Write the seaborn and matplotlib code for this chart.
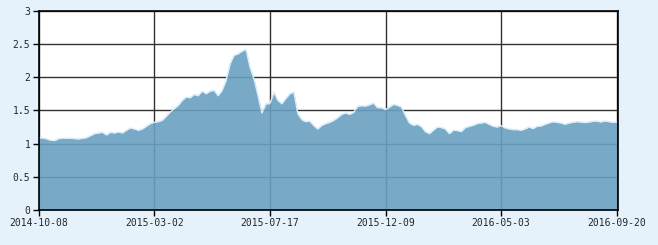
import matplotlib
matplotlib.use("Agg")
import matplotlib.pyplot as plt
import seaborn as sns
import numpy as np
import pandas as pd

# Net value series (sampled along the trading-day axis)
values = [
    1.085, 1.085, 1.07, 1.05, 1.045, 1.075, 1.08, 1.08, 1.08, 1.075,
    1.07, 1.08, 1.09, 1.12, 1.15, 1.16, 1.17, 1.13, 1.17, 1.16,
    1.175, 1.16, 1.2, 1.235, 1.22, 1.2, 1.22, 1.26, 1.3, 1.32,
    1.33, 1.35, 1.41, 1.475, 1.525, 1.575, 1.65, 1.7, 1.69, 1.74,
    1.72, 1.79, 1.75, 1.79, 1.8, 1.72, 1.8, 1.95, 2.2, 2.33,
    2.35, 2.39, 2.42, 2.15, 1.975, 1.725, 1.46, 1.6, 1.6, 1.775,
    1.65, 1.6, 1.68, 1.75, 1.775, 1.45, 1.36, 1.33, 1.34, 1.27,
    1.22, 1.275, 1.3, 1.32, 1.35, 1.39, 1.44, 1.46, 1.44, 1.47,
    1.56, 1.57, 1.565, 1.585, 1.61, 1.54, 1.54, 1.51, 1.55, 1.59,
    1.575, 1.55, 1.42, 1.31, 1.275, 1.29, 1.255, 1.18, 1.15, 1.2,
    1.25, 1.24, 1.22, 1.15, 1.2, 1.195, 1.18, 1.24, 1.26, 1.275,
    1.3, 1.31, 1.32, 1.29, 1.26, 1.25, 1.27, 1.235, 1.22, 1.21,
    1.21, 1.2, 1.22, 1.25, 1.225, 1.26, 1.265, 1.29, 1.31, 1.33,
    1.32, 1.31, 1.29, 1.31, 1.32, 1.33, 1.325, 1.315, 1.325, 1.335,
    1.34, 1.325, 1.34, 1.33, 1.32, 1.325,
]
tick_labels = ["2014-10-08", "2015-03-02", "2015-07-17",
               "2015-12-09", "2016-05-03", "2016-09-20"]
y_ticks = [0, 0.5, 1, 1.5, 2, 2.5, 3]
y_tick_labels = ["0", "0.5", "1", "1.5", "2", "2.5", "3"]

df = pd.DataFrame({"idx": np.arange(len(values)), "value": values})

sns.set_style("white")
plt.rcParams["font.family"] = ["DejaVu Sans Mono", "DejaVu Sans"]

bg = "#e6f2fb"
fig = plt.figure(figsize=(6.58, 2.45), dpi=100, facecolor=bg)
ax = fig.add_axes([0.0588, 0.1429, 0.8809, 0.8134])
ax.set_facecolor("white")

# grid
for yv in y_ticks:
    ax.axhline(yv, color="#333333", lw=1.0, zorder=1)
n = len(values)
tick_pos = np.linspace(0, n - 1, len(tick_labels))
for xv in tick_pos:
    ax.axvline(xv, color="#333333", lw=1.0, zorder=1)

ax.fill_between(df["idx"], df["value"], 0, color="#69a1c2", alpha=0.9,
                lw=0, zorder=2)
sns.lineplot(data=df, x="idx", y="value", ax=ax, color="#d9ecf8", lw=1.0,
             zorder=3)

ax.set_xlim(0, n - 1 + 0.4)
ax.set_ylim(0, 3)
ax.set_xticks(tick_pos)
ax.set_xticklabels(tick_labels)
ax.set_yticks(y_ticks)
ax.set_yticklabels(y_tick_labels)
ax.set_xlabel("")
ax.set_ylabel("")
ax.tick_params(axis="both", which="both", direction="out", length=4,
               width=1, color="black", labelsize=7, pad=2,
               bottom=True, left=True)
for s in ax.spines.values():
    s.set_visible(True)
    s.set_color("black")
    s.set_linewidth(1.2)
    s.set_zorder(5)

fig.savefig("out.png", dpi=100, facecolor=bg)
